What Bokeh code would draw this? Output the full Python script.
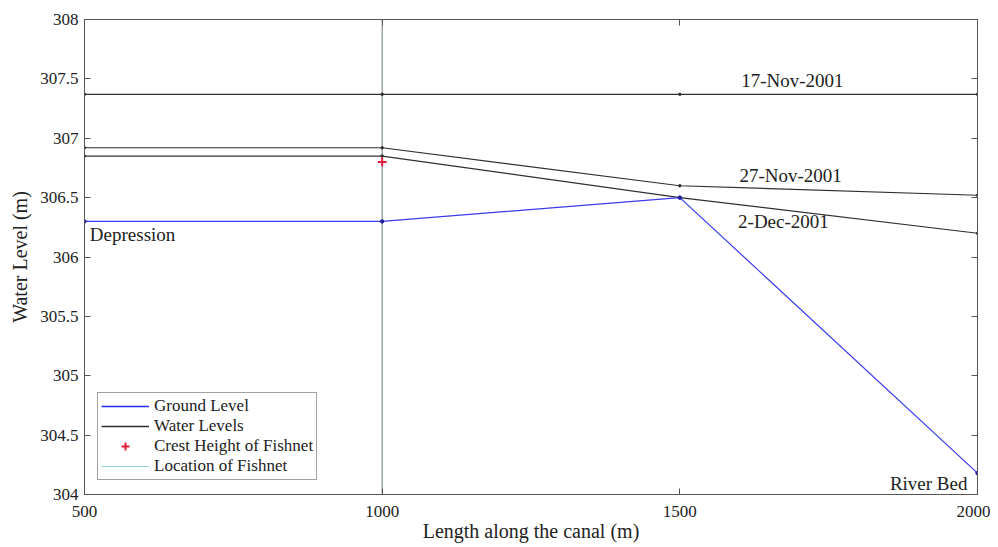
from bokeh.plotting import figure
from bokeh.models import (FixedTicker, LinearAxis, Range1d, Legend, LegendItem)
from bokeh.core.properties import value
from bokeh.embed import file_html
from bokeh.resources import INLINE

# ---- data ----
chainage = [500, 1000, 1500, 2000]
ground_level = [306.30, 306.30, 306.50, 304.18]
wl_17nov = [307.37, 307.37, 307.37, 307.37]
wl_27nov = [306.92, 306.92, 306.60, 306.52]
wl_2dec = [306.85, 306.85, 306.50, 306.20]
fishnet_location = 1000
fishnet_crest = 306.80

x_ticks = [500, 1000, 1500, 2000]
y_ticks = [304, 304.5, 305, 305.5, 306, 306.5, 307, 307.5, 308]
y_tick_labels = ["304", "304.5", "305", "305.5", "306", "306.5", "307", "307.5", "308"]

date_labels = ["17-Nov-2001", "27-Nov-2001", "2-Dec-2001"]
date_label_x = [1689, 1686, 1674]
date_label_y = [307.49, 306.69, 306.30]

FONT = "Liberation Serif"
x_min, x_max = 500, 2000
y_min, y_max = 304, 308
NAN = [float("nan")]

p = figure(width=990, height=544, output_backend="svg", toolbar_location=None,
           x_range=Range1d(x_min, x_max), y_range=Range1d(y_min, y_max),
           min_border_left=84, min_border_top=19, min_border_right=13,
           min_border_bottom=41, background_fill_color="white",
           border_fill_color="white")
p.grid.visible = False
p.outline_line_color = "#555555"
p.outline_line_width = 1

def style_axis(ax):
    ax.major_tick_in = 6
    ax.major_tick_out = 0
    ax.minor_tick_in = 0
    ax.minor_tick_out = 0
    ax.axis_line_color = "#555555"
    ax.major_tick_line_color = "#555555"
    ax.major_label_text_font = FONT
    ax.major_label_text_font_size = "17px"
    ax.major_label_text_color = "#222222"
    ax.axis_label_text_font = FONT
    ax.axis_label_text_font_size = "20px"
    ax.axis_label_text_font_style = "normal"
    ax.axis_label_text_color = "#222222"

p.xaxis.ticker = FixedTicker(ticks=x_ticks)
p.yaxis.ticker = FixedTicker(ticks=y_ticks)
p.yaxis.major_label_overrides = {t: l for t, l in zip(y_ticks, y_tick_labels)}
p.xaxis.axis_label = "Length along the canal (m)"
p.yaxis.axis_label = "Water Level (m)"
style_axis(p.xaxis[0])
style_axis(p.yaxis[0])
p.xaxis.major_label_standoff = 11
p.xaxis.axis_label_standoff = 0
p.yaxis.major_label_standoff = 6
p.yaxis.axis_label_standoff = 6

# mirrored tick marks (no labels) on the right and top
right = LinearAxis(ticker=FixedTicker(ticks=y_ticks),
                   major_label_overrides={t: "" for t in y_ticks})
style_axis(right)
right.major_label_standoff = 0
p.add_layout(right, "right")
top = LinearAxis(ticker=FixedTicker(ticks=x_ticks),
                 major_label_overrides={t: "" for t in x_ticks})
style_axis(top)
top.major_label_standoff = 0
p.add_layout(top, "above")

# fishnet location
p.line([fishnet_location, fishnet_location], [y_min, y_max],
       line_color="#6a7878", line_width=1)

# water levels
water_col = "#303030"
for wl in [wl_17nov, wl_27nov, wl_2dec]:
    p.line(chainage, wl, line_color=water_col, line_width=1.2)
    p.scatter(chainage, wl, size=2.5, color=water_col)

# ground level
blue = "#3a3aee"
p.line(chainage, ground_level, line_color=blue, line_width=1.2)
p.scatter(chainage, ground_level, size=3.5, color="#2020a0")

# crest
p.scatter([fishnet_location], [fishnet_crest], marker="cross", size=9,
          line_width=2, line_color="#e0203a")

# annotations
ANN = "19px"
p.text(x=date_label_x, y=date_label_y, text=date_labels, text_align="center",
       text_baseline="middle", text_font=value(FONT), text_font_size=ANN,
       text_color="#222222")
p.text(x=[509], y=[306.19], text=["Depression"], text_align="left",
       text_baseline="middle", text_font=value(FONT), text_font_size=ANN,
       text_color="#222222")
p.text(x=[1918], y=[304.09], text=["River Bed"], text_align="center",
       text_baseline="middle", text_font=value(FONT), text_font_size=ANN,
       text_color="#222222")

# legend proxies (NaN data: nothing drawn in the plot)
leg_g = p.line(x=NAN, y=NAN, line_color="#2a2aff", line_width=1.5)
leg_w = p.line(x=NAN, y=NAN, line_color=water_col, line_width=1.5)
leg_c = p.scatter(x=NAN, y=NAN, marker="cross", size=9, line_width=2,
                  line_color="#e0203a")
leg_l = p.line(x=NAN, y=NAN, line_color="#8fd0d8", line_width=1.2)
items = [
    LegendItem(label="Ground Level", renderers=[leg_g]),
    LegendItem(label="Water Levels", renderers=[leg_w]),
    LegendItem(label="Crest Height of Fishnet", renderers=[leg_c]),
    LegendItem(label="Location of Fishnet", renderers=[leg_l]),
]
legend = Legend(items=items, location=(13, 14))
legend.label_text_font = FONT
legend.label_text_font_size = "17px"
legend.label_text_color = "#222222"
legend.glyph_width = 48
legend.glyph_height = 20
legend.label_height = 20
legend.spacing = 0
legend.padding = 3
legend.margin = 0
legend.label_standoff = 5
legend.border_line_color = "#444444"
legend.border_line_width = 1
legend.background_fill_alpha = 1
p.add_layout(legend, "center")

open("out.html", "w").write(file_html(p, INLINE))
